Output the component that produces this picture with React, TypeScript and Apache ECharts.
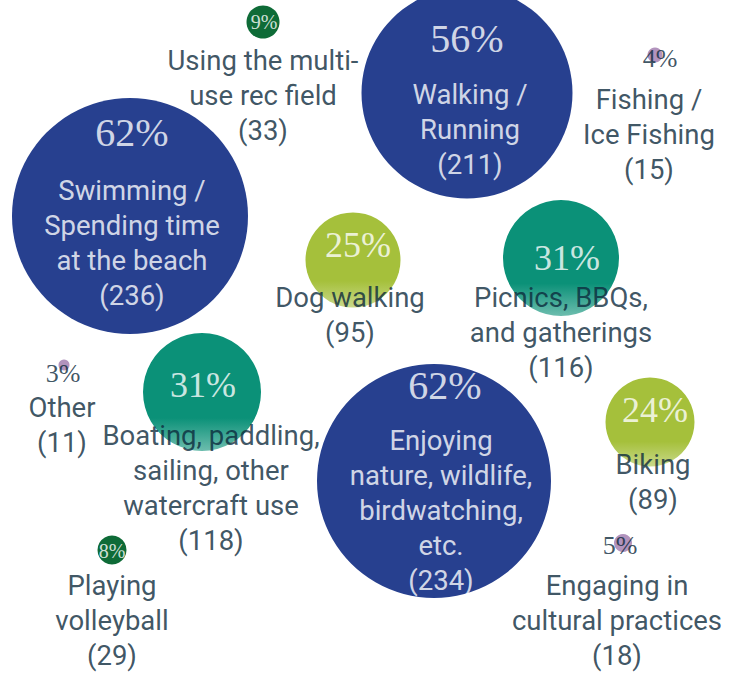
import React, { useEffect, useRef } from "react";
import * as echarts from "echarts";

// ---- data ----
const categories = [
  "Walking /\nRunning",
  "Swimming /\nSpending time\nat the beach",
  "Enjoying\nnature, wildlife,\nbirdwatching,\netc.",
  "Picnics, BBQs,\nand gatherings",
  "Dog walking",
  "Boating, paddling,\nsailing, other\nwatercraft use",
  "Biking",
  "Fishing /\nIce Fishing",
  "Using the multi-\nuse rec field",
  "Other",
  "Playing\nvolleyball",
  "Engaging in\ncultural practices",
];
const counts = [211, 236, 234, 116, 95, 118, 89, 15, 33, 11, 29, 18];
const percents = [56, 62, 62, 31, 25, 31, 24, 4, 9, 3, 8, 5];
// bubble layout (centre of each bubble, in chart units)
const bubbleX = [467, 130, 434, 561, 353, 202, 650, 655, 263, 64, 112, 623];
const bubbleY = [93, 216, 481, 258, 260, 392, 422, 55, 22, 365, 550, 543];

// ---- label layout: [dx, dy] of percent text centre, [dx, dy] of first name line centre ----
const pctOffset = [
  [0, -55], [2, -84], [11, -96], [6, 0], [5, -15], [1, -7], [5, -12], [5, 3], [1, 0], [-1, 8], [0, 1], [-3, 2],
];
const nameOffset = [
  [3, 1], [2, -26], [7, -41], [0, 39], [-3, 37], [9, 43], [3, 42], [-6, 44], [0, 38], [-2, 42], [0, 35], [-6, 42],
];

const BLUE = "#27408f";
const TEAL = "#0b9178";
const LIME = "#a5c03b";
const DKGREEN = "#0e6b37";
const PURPLE = "#b293bd";
const DARKTEXT = "#0c2a3c";
const LINE_H = 35;

function colorFor(count: number): string {
  if (count >= 200) return BLUE;
  if (count >= 100) return TEAL;
  if (count >= 60) return LIME;
  if (count >= 25) return DKGREEN;
  return PURPLE;
}

function lighten(hex: string, t: number): string {
  const n = parseInt(hex.slice(1), 16);
  const r = (n >> 16) & 255, g = (n >> 8) & 255, b = n & 255;
  const m = (c: number) => Math.round(c + (255 - c) * t);
  return `rgb(${m(r)},${m(g)},${m(b)})`;
}

export default function App() {
  const ref = useRef<HTMLDivElement>(null);
  useEffect(() => {
    if (!ref.current) return;
    const chart = echarts.init(ref.current, undefined, { renderer: "svg" });

    const bubbles = counts.map((c, i) => {
      const col = colorFor(c);
      const medium = c >= 60 && c < 200;
      return {
        value: [bubbleX[i], bubbleY[i], c],
        itemStyle: {
          opacity: 1,
          color: medium
            ? new echarts.graphic.LinearGradient(0, 0, 0, 1, [
                { offset: 0, color: col },
                { offset: 0.72, color: col },
                { offset: 1, color: lighten(col, 0.4) },
              ])
            : col,
        },
      };
    });

    const pctData = counts.map((c, i) => {
      const big = c >= 60;
      const tiny = c >= 25 && c < 60;
      let fontSize = 26;
      let color = DARKTEXT;
      if (c >= 200) { fontSize = 40; color = "#ffffff"; }
      else if (big) { fontSize = 36; color = "#ffffff"; }
      else if (tiny) { fontSize = 20; color = "#ffffff"; }
      return {
        value: [bubbleX[i] + pctOffset[i][0], bubbleY[i] + pctOffset[i][1]],
        label: {
          formatter: `${percents[i]}%`,
          fontSize,
          color,
        },
      };
    });

    const nameData = counts.map((c, i) => ({
      value: [
        bubbleX[i] + nameOffset[i][0],
        bubbleY[i] + nameOffset[i][1] - LINE_H / 2,
      ],
      label: {
        formatter: `${categories[i]}\n(${c})`,
        color: c >= 200 ? "#ffffff" : DARKTEXT,
      },
    }));

    chart.setOption({
      animation: false,
      title: {
        text: "in Results",
        left: 6,
        top: -40,
        textStyle: { color: "#1aa88d", fontSize: 40, fontWeight: 500, fontFamily: "Roboto" },
      },
      grid: { left: 0, right: 0, top: 0, bottom: 0 },
      xAxis: { type: "value", min: 0, max: 738, show: false },
      yAxis: { type: "value", min: 0, max: 673, inverse: true, show: false },
      series: [
        {
          type: "scatter",
          data: bubbles,
          symbolSize: (v: number[]) => v[2],
          itemStyle: { opacity: 1 },
          clip: false,
          z: 1,
          silent: true,
        },
        {
          type: "scatter",
          data: nameData,
          symbolSize: 1,
          itemStyle: { color: "transparent" },
          clip: false,
          z: 3,
          silent: true,
          label: {
            show: true,
            position: "bottom",
            distance: 0,
            align: "center",
            fontFamily: "Roboto",
            fontSize: 27.5,
            lineHeight: LINE_H,
          },
        },
        {
          type: "scatter",
          data: pctData,
          symbolSize: 1,
          itemStyle: { color: "transparent" },
          clip: false,
          z: 4,
          silent: true,
          label: {
            show: true,
            position: "inside",
            fontFamily: "Liberation Serif",
          },
        },
      ],
    });
    return () => chart.dispose();
  }, []);
  return (
    <div
      ref={ref}
      style={{ position: "absolute", left: 0, top: 0, width: 738, height: 673 }}
    />
  );
}
